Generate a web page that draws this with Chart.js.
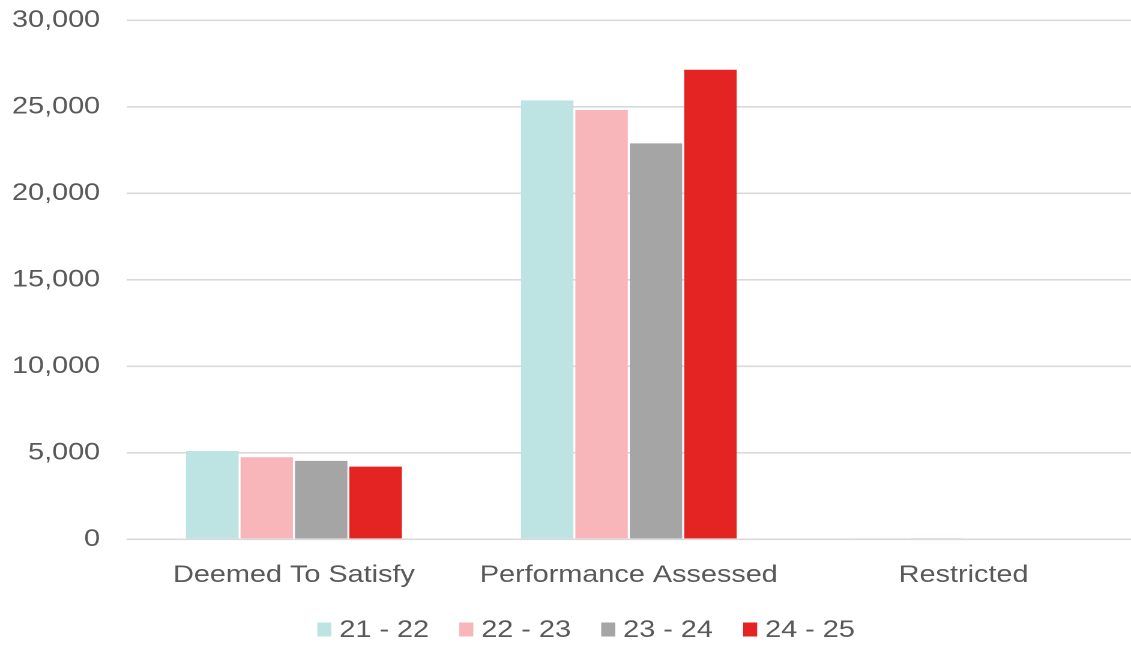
<!DOCTYPE html>
<html>
<head>
<meta charset="utf-8">
<script src="https://cdn.jsdelivr.net/npm/chart.js@4/dist/chart.umd.min.js"></script>
<style>
  html, body { margin: 0; padding: 0; background: #fff; overflow: hidden; }
  #wrap {
    position: absolute; left: 0; top: 0;
    width: 942px; height: 646px;
    transform-origin: 0 0;
    transform: scaleX(1.20064);
  }
</style>
</head>
<body>
<div id="wrap"><canvas id="chart"></canvas></div>
<script>
// Application counts by assessment pathway, per financial year
const categories = ['Deemed To Satisfy', 'Performance Assessed', 'Restricted'];
const seriesNames = ['21 - 22', '22 - 23', '23 - 24', '24 - 25'];
const fy2122 = [5100, 25380, 30];
const fy2223 = [4740, 24820, 25];
const fy2324 = [4530, 22890, 0];
const fy2425 = [4200, 27150, 0];
const yTicks = [0, 5000, 10000, 15000, 20000, 25000, 30000];

const colors = ['#BDE3E3', '#F8B6BA', '#A5A5A5', '#E42323'];
const textColor = '#595959';
const fontFamily = '"Liberation Sans", Arial, sans-serif';

const seriesValues = [fy2122, fy2223, fy2324, fy2425];

// Legend drawn as a single row below the axis labels
const legendRow = {
  id: 'legendRow',
  afterDraw(chart) {
    const ctx = chart.ctx;
    const boxW = 11.7, boxH = 14, textGap = 6.6, itemGap = 25.2;
    const cy = 629.5;
    ctx.save();
    ctx.font = '24px ' + fontFamily;
    ctx.textBaseline = 'middle';
    ctx.textAlign = 'left';
    let x = 264.3;
    chart.data.datasets.forEach(ds => {
      ctx.fillStyle = ds.backgroundColor;
      ctx.fillRect(x, cy - boxH / 2, boxW, boxH);
      ctx.fillStyle = textColor;
      const tx = x + boxW + textGap;
      ctx.fillText(ds.label, tx, cy + 1);
      x = tx + ctx.measureText(ds.label).width + itemGap;
    });
    ctx.restore();
  }
};

new Chart(document.getElementById('chart'), {
  type: 'bar',
  data: {
    labels: categories,
    datasets: seriesNames.map((name, i) => ({
      label: name,
      data: seriesValues[i],
      backgroundColor: colors[i],
      borderWidth: 0,
      barPercentage: 0.964,
      categoryPercentage: 0.65
    }))
  },
  options: {
    responsive: true,
    maintainAspectRatio: false,
    devicePixelRatio: 2,
    animation: false,
    layout: { padding: { left: -12, right: -5, top: 20.5, bottom: 34 } },
    plugins: {
      legend: { display: false },
      tooltip: { enabled: false }
    },
    scales: {
      x: {
        grid: { display: false, drawTicks: false },
        border: { display: false },
        ticks: {
          color: textColor,
          padding: 22,
          font: { family: fontFamily, size: 24 }
        }
      },
      y: {
        min: 0,
        max: 30000,
        afterBuildTicks(scale) {
          scale.ticks = yTicks.map(v => ({ value: v }));
        },
        afterFit(scale) {
          // top label may overhang the plot; the layout padding covers it
          scale.paddingTop = 0;
          scale.paddingBottom = 0;
        },
        grid: { color: '#D9D9D9', lineWidth: 1.6, drawTicks: false },
        border: { display: false },
        ticks: {
          color: textColor,
          padding: 22,
          font: { family: fontFamily, size: 24 },
          callback: v => Number(v).toLocaleString('en-US')
        }
      }
    }
  },
  plugins: [legendRow]
});
</script>
</body>
</html>
